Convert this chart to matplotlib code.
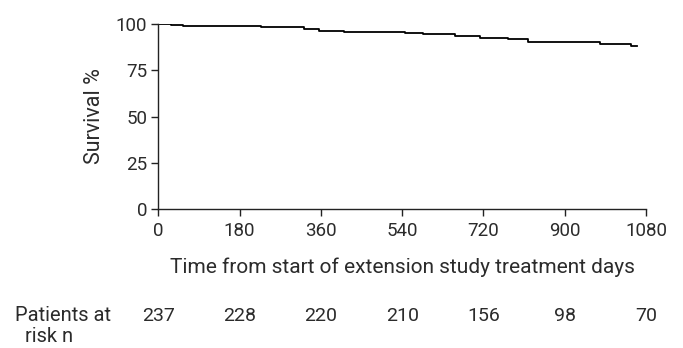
import matplotlib
matplotlib.use('Agg')
import matplotlib.pyplot as plt

# Kaplan-Meier curve (days, survival %)
step_days = [0, 28, 54, 83, 228, 322, 356, 412, 547, 586, 656, 713, 774, 818, 978, 1047, 1061]
survival = [100, 99.5, 98.9, 98.6, 98.0, 97.0, 96.3, 95.4, 94.8, 94.5, 93.6, 92.5, 91.8, 90.0, 89.3, 87.8, 87.8]

xticks = [0, 180, 360, 540, 720, 900, 1080]
yticks = [0, 25, 50, 75, 100]
at_risk = [237, 228, 220, 210, 156, 98, 70]

text_color = '#2b2b2b'
plt.rcParams['font.family'] = ['Roboto', 'DejaVu Sans']
plt.rcParams['text.color'] = text_color
plt.rcParams['xtick.color'] = text_color
plt.rcParams['ytick.color'] = text_color

fig = plt.figure(figsize=(6.83, 3.48), dpi=100)
ax = fig.add_axes([0.2318, 0.398, 0.714, 0.534])

ax.step(step_days, survival, where='post', color='black', lw=1.3)

ax.set_xlim(0, 1080)
ax.set_ylim(0, 100)
ax.set_xticks(xticks)
ax.set_yticks(yticks)
ax.spines['top'].set_visible(False)
ax.spines['right'].set_visible(False)
for s in ('left', 'bottom'):
    ax.spines[s].set_color('#222222')
    ax.spines[s].set_linewidth(1.0)
ax.tick_params(length=5, width=1.0, color='#222222', labelsize=13.5)
ax.tick_params(axis='x', pad=4)
ax.tick_params(axis='y', pad=3)

# axis titles placed in figure pixels to match the reference
fig.text(402 / 683, 1 - 272.7 / 348, 'Time from start of extension study treatment days',
         ha='center', va='baseline', fontsize=15)
fig.text(94 / 683, 1 - 116 / 348, 'Survival %', rotation=90,
         ha='center', va='center', fontsize=15.5)

# numbers at risk below the axis
trans = ax.get_xaxis_transform()
for d, n in zip(xticks, at_risk):
    ax.text(d, -(321 - 209.5) / 185.8, str(n), transform=trans,
            ha='center', va='baseline', fontsize=14)
fig.text(15 / 683, 1 - 321 / 348, 'Patients at', ha='left', va='baseline', fontsize=14.5)
fig.text(25 / 683, 1 - 342 / 348, 'risk n', ha='left', va='baseline', fontsize=14.5)

fig.savefig('out.png', dpi=100)
